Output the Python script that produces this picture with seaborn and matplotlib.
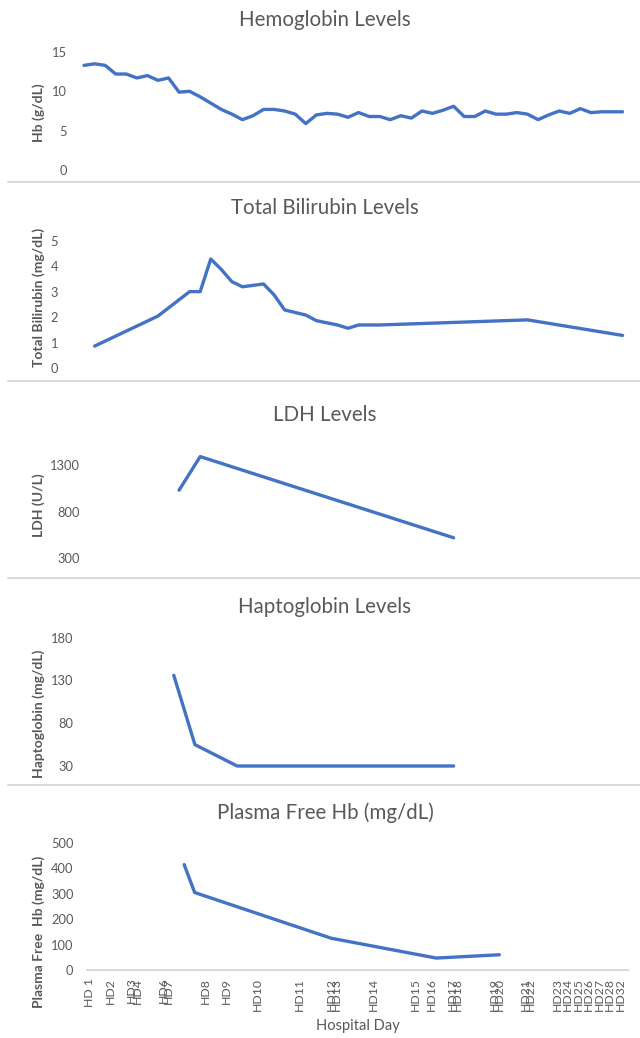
import matplotlib
matplotlib.use("Agg")
import matplotlib.pyplot as plt
from matplotlib.lines import Line2D
import seaborn as sns

# slot index on the hospital-day axis (one slot per draw time)
hb_idx = list(range(0, 103, 2))
hb_val = [13.3, 13.5, 13.3, 12.2, 12.2, 11.7, 12.0, 11.4, 11.7, 9.9, 10.0, 9.3, 8.5,
          7.7, 7.1, 6.4, 6.9, 7.7, 7.7, 7.5, 7.1, 5.9, 7.0, 7.2, 7.1, 6.7, 7.3, 6.8,
          6.8, 6.4, 6.9, 6.6, 7.5, 7.2, 7.6, 8.1, 6.8, 6.8, 7.5, 7.1, 7.1, 7.3, 7.1,
          6.4, 7.0, 7.5, 7.2, 7.8, 7.3, 7.4, 7.4, 7.4]

bili_idx = [2, 14, 20, 22, 24, 26, 28, 30, 34, 36, 38, 42, 44, 48, 50, 52, 56, 84, 102]
bili_val = [0.86, 2.04, 3.0, 3.0, 4.28, 3.87, 3.39, 3.19, 3.3, 2.87, 2.28, 2.08, 1.86,
            1.69, 1.56, 1.69, 1.69, 1.89, 1.28]

ldh_idx = [18, 22, 70]
ldh_val = [1030, 1390, 520]

hapto_idx = [17, 21, 29, 70]
hapto_val = [136, 55, 30, 30]

pfh_idx = [18, 20, 46, 66, 78]
pfh_val = [415, 305, 125, 47, 60]

day_pos = [0, 4, 8, 9, 14, 15, 22, 26, 32, 40, 46, 47, 54, 62, 65, 69, 70, 77, 78,
           83, 84, 89, 91, 93, 95, 97, 99, 101]
day_labels = ["HD 1", "HD2", "HD3", "HD4", "HD6", "HD7", "HD8", "HD9", "HD10", "HD11",
              "HD12", "HD13", "HD14", "HD15", "HD16", "HD17", "HD18", "HD19", "HD20",
              "HD21", "HD22", "HD23", "HD24", "HD25", "HD26", "HD27", "HD28", "HD32"]

sns.set_theme(style="white")
plt.rcParams["font.family"] = ["Lato", "DejaVu Sans"]

W, H = 640, 1038
BLUE = "#4472C4"
GREY = "#595959"
LIGHT = "#D9D9D9"

fig = plt.figure(figsize=(W / 100, H / 100), dpi=100)


def px_axes(x0, x1, ytop, ybot):
    return fig.add_axes([x0 / W, 1 - ybot / H, (x1 - x0) / W, (ybot - ytop) / H])


# (title, title y, ylabel, ylabel centre, x, y, ticks, ylim, axes px box, tick pad)
panels = [
    ("Hemoglobin Levels", 20, "Hb (g/dL)", 113, hb_idx, hb_val, [0, 5, 10, 15], (0, 15),
     (81.4, 625.2, 52, 170), 10.4),
    ("Total Bilirubin Levels", 208, "Total Bilirubin (mg/dL)", 297, bili_idx, bili_val,
     [0, 1, 2, 3, 4, 5], (0, 5), (81.4, 625.2, 240.7, 368), 16.8),
    ("LDH Levels", 415, "LDH (U/L)", 505, ldh_idx, ldh_val, [300, 800, 1300], (300, 1450),
     (81.4, 625.2, 451, 558.3), 1.0),
    ("Haptoglobin Levels", 607, "Haptoglobin (mg/dL)", 714, hapto_idx, hapto_val,
     [30, 80, 130, 180], (30, 180), (81.4, 625.2, 637.7, 766), 5.7),
    ("Plasma Free Hb (mg/dL)", 813, "Plasma Free  Hb (mg/dL)", 932, pfh_idx, pfh_val,
     [0, 100, 200, 300, 400, 500], (0, 500), (87, 628, 843, 970), 9.7),
]

axes = []
for title, ty, ylab, ly, xs, ys, ticks, ylim, box, pad in panels:
    ax = px_axes(*box)
    sns.lineplot(x=xs, y=ys, ax=ax, color=BLUE, linewidth=2.4, clip_on=False)
    ax.set_xlim(-0.5, 102.5)
    ax.set_ylim(*ylim)
    ax.set_yticks(ticks)
    ax.tick_params(axis="y", length=0, pad=pad, labelsize=9.3, labelcolor=GREY)
    for s in ax.spines.values():
        s.set_visible(False)
    ax.set_xticks([])
    ax.set_ylabel(ylab, fontsize=10, fontweight="bold", color=GREY)
    ax.yaxis.set_label_coords(45 / W, 1 - ly / H, transform=fig.transFigure)
    fig.text(325 / W, 1 - ty / H, title, ha="center", va="center", fontsize=14.8, color=GREY)
    axes.append(ax)

# bottom axis with the hospital-day categories
ax = axes[-1]
ax.spines["bottom"].set_visible(True)
ax.spines["bottom"].set_color(LIGHT)
ax.spines["bottom"].set_linewidth(1.4)
ax.set_xticks(day_pos)
ax.set_xticklabels(day_labels, rotation=90, fontsize=8.8, color=GREY)
ax.tick_params(axis="x", length=0, pad=5.5)
ax.set_xlabel("Hospital Day", fontsize=10.5, color=GREY)
ax.xaxis.set_label_coords(357.5 / W, 1 - 1019 / H, transform=fig.transFigure)

# chart separators
for y in [182, 381, 578, 785]:
    fig.add_artist(Line2D([8 / W, 1], [1 - y / H, 1 - y / H], transform=fig.transFigure,
                          color=LIGHT, linewidth=1.4))

fig.savefig("out.png", dpi=100)
